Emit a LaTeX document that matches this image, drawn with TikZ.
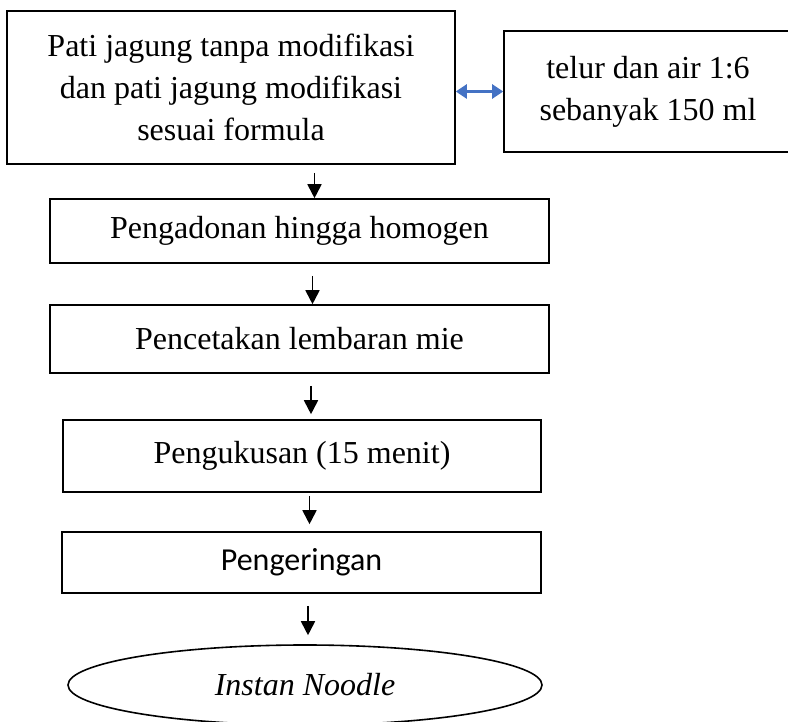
\documentclass[tikz,border=0pt]{standalone}
\usepackage{fontspec}
\setmainfont{Liberation Serif}
\newfontfamily\calibri{Carlito}
\usetikzlibrary{positioning, arrows.meta, shapes.geometric}
\definecolor{arrowblue}{HTML}{4472C4}

\begin{document}
\begin{tikzpicture}[
    x=1pt, y=-1pt,
    font=\fontsize{32}{42}\selectfont,
    box/.style={rectangle, draw, line width=1.6pt, align=center, inner sep=0pt},
    arr/.style={line width=1.8pt, -{Triangle[length=14pt, width=14pt]}},
    dbl/.style={draw=arrowblue, line width=2.6pt, {Triangle[length=11pt, width=14pt]}-{Triangle[length=11pt, width=14pt]}}
]
\useasboundingbox (0,0) rectangle (788,722);
\clip (0,0) rectangle (788,722);

\node[box, minimum width=448pt, minimum height=153pt] (pati) at (231,87.5)
    {Pati jagung tanpa modifikasi\\dan pati jagung modifikasi\\sesuai formula};
    \node[box, minimum width=288pt, minimum height=121pt] (telur) at (648,91.5)
    {telur dan air 1:6\\sebanyak 150 ml};

\node[box, minimum width=499pt, minimum height=64pt] (adon) at (299.5,231) {Pengadonan hingga homogen};
    \node[box, minimum width=499pt, minimum height=68pt] (cetak) at (299.5,339) {Pencetakan lembaran mie};
    \node[box, minimum width=478pt, minimum height=72pt] (kukus) at (302,456) {Pengukusan (15 menit)};
    \node[box, minimum width=479pt, minimum height=61pt, font=\calibri\fontsize{32}{42}\selectfont] (kering) at (301.5,562.5) {Pengeringan};
    \node[ellipse, draw, line width=1.6pt, minimum width=474pt, minimum height=80pt, inner sep=0pt,
          font=\itshape\fontsize{32}{42}\selectfont] (noodle) at (305,685) {Instan Noodle};

\draw[dbl] (telur.west -| pati.east) -- (telur.west);

\draw[arr, shorten <=8pt] ([xshift=15pt]adon.north |- pati.south) -- ([xshift=15pt]adon.north);
    \draw[arr, shorten <=12pt] ([xshift=13pt]cetak.north |- adon.south) -- ([xshift=13pt]cetak.north);
    \draw[arr, shorten <=12pt, shorten >=5pt] ([xshift=9pt]kukus.north |- cetak.south) -- ([xshift=9pt]kukus.north);
    \draw[arr, shorten <=3pt, shorten >=7pt] ([xshift=8pt]kering.north |- kukus.south) -- ([xshift=8pt]kering.north);
    \draw[arr, shorten <=12pt, shorten >=9pt] ([xshift=3pt]noodle.north |- kering.south) -- ([xshift=3pt]noodle.north);
\end{tikzpicture}
\end{document}
